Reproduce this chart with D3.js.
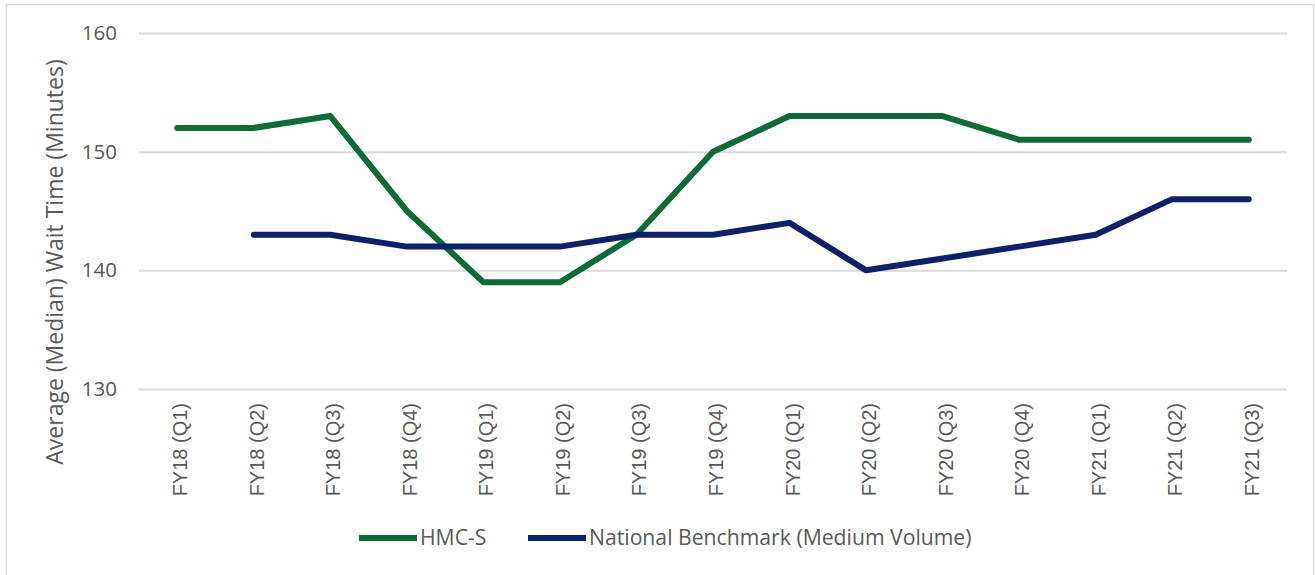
<!DOCTYPE html>
<html>
<head>
<meta charset="utf-8">
<script src="https://cdn.jsdelivr.net/npm/d3@7"></script>
<style>
  body { margin: 0; background: #fff; }
  #chart { width: 1315px; height: 575px; }
  .grid line { stroke: #d9d9d9; stroke-width: 2px; }
  text { fill: #595959; font-family: "Open Sans", sans-serif; }
  .xlab text { font-family: "Liberation Sans", Arial, sans-serif; }
</style>
</head>
<body>
<div id="chart"></div>
<script>
var quarters = ["FY18 (Q1)", "FY18 (Q2)", "FY18 (Q3)", "FY18 (Q4)", "FY19 (Q1)", "FY19 (Q2)", "FY19 (Q3)", "FY19 (Q4)",
                "FY20 (Q1)", "FY20 (Q2)", "FY20 (Q3)", "FY20 (Q4)", "FY21 (Q1)", "FY21 (Q2)", "FY21 (Q3)"];
var hmcValues = [152, 152, 153, 145, 139, 139, 143, 150, 153, 153, 153, 151, 151, 151, 151];
var benchmarkValues = [null, 143, 143, 142, 142, 142, 143, 143, 144, 140, 141, 142, 143, 146, 146];
var yTicks = [130, 140, 150, 160];
var seriesNames = ["HMC-S", "National Benchmark (Medium Volume)"];
var seriesColors = ["#0e6b38", "#0d216b"];

var drawWaitTimeChart = function(div){
  var margin = {top: 33, right: 28, bottom: 186, left: 139},
      width = 1315 - margin.left - margin.right,
      height = 575 - margin.top - margin.bottom;

  var root = d3.select(div).append("svg")
      .attr("width", 1315)
      .attr("height", 575);

  // outer chart border
  root.append("rect")
      .attr("x", 6.5).attr("y", 4.5)
      .attr("width", 1307).attr("height", 575)
      .attr("fill", "none")
      .attr("stroke", "#d9d9d9")
      .attr("stroke-width", 1.5);

  var svg = root.append("g")
      .attr("transform", "translate(" + margin.left + "," + margin.top + ")");

  var x = d3.scaleBand().domain(quarters).range([0, width]);
  var y = d3.scaleLinear().domain([130, 160]).range([height, 0]);

  // gridlines
  svg.append("g")
      .attr("class", "grid")
      .call(d3.axisLeft(y).tickValues(yTicks).tickSize(-width).tickFormat(""))
      .call(function(g) { g.select(".domain").remove(); });

  // y axis labels
  svg.append("g")
      .call(d3.axisLeft(y).tickValues(yTicks).tickSize(0).tickPadding(22))
      .call(function(g) { g.select(".domain").remove(); })
      .selectAll("text")
        .style("font-size", "20.5px")
        .attr("fill", "#595959");

  // x axis labels
  svg.append("g")
      .attr("class", "xlab")
      .attr("transform", "translate(0," + height + ")")
      .call(d3.axisBottom(x).tickSize(0))
      .call(function(g) { g.select(".domain").remove(); })
      .selectAll("text")
        .style("font-size", "20px")
        .attr("fill", "#595959")
        .style("text-anchor", "end")
        .attr("dx", "-14px")
        .attr("dy", "0.35em")
        .attr("transform", "rotate(-90)");

  // y axis title
  svg.append("text")
      .attr("transform", "rotate(-90)")
      .attr("x", -(height / 2) - 51)
      .attr("y", -76)
      .attr("text-anchor", "middle")
      .style("font-size", "23px")
      .text("Average (Median) Wait Time (Minutes)");

  var line = d3.line()
      .defined(function(d) { return d != null; })
      .x(function(d, i) { return x(quarters[i]) + x.bandwidth() / 2; })
      .y(function(d) { return y(d); });

  [hmcValues, benchmarkValues].forEach(function(vals, i) {
    svg.append("path")
        .datum(vals)
        .attr("fill", "none")
        .attr("stroke", seriesColors[i])
        .attr("stroke-width", 6)
        .attr("stroke-linejoin", "round")
        .attr("stroke-linecap", "round")
        .attr("d", line);
  });

  // legend
  var legendX = [359, 528];
  var legend = root.append("g");
  seriesNames.forEach(function(name, i) {
    legend.append("line")
        .attr("x1", legendX[i]).attr("x2", legendX[i] + 58)
        .attr("y1", 538).attr("y2", 538)
        .attr("stroke", seriesColors[i])
        .attr("stroke-width", 6);
    legend.append("text")
        .attr("x", legendX[i] + 61)
        .attr("y", 538)
        .attr("dy", "0.35em")
        .style("font-size", "21.2px")
        .text(name);
  });
};

drawWaitTimeChart("#chart");
</script>
</body>
</html>
